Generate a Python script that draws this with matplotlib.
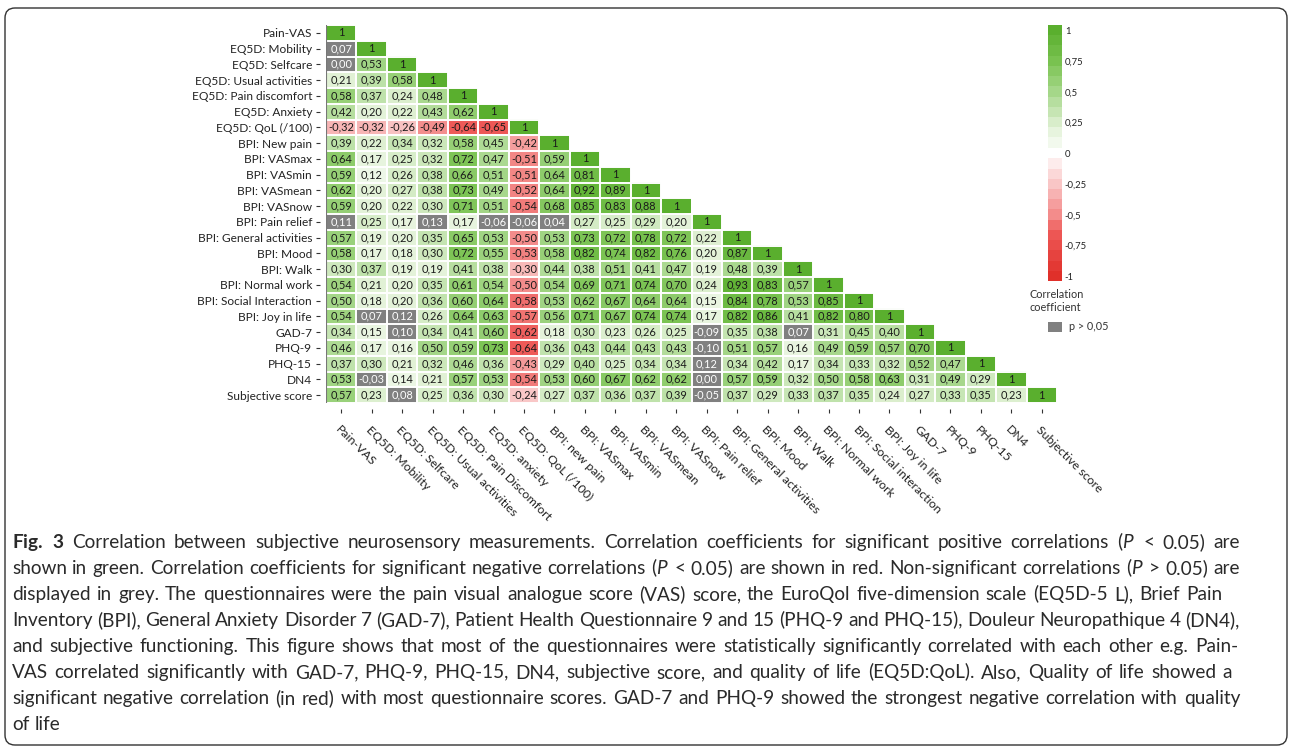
import numpy as np
import matplotlib
matplotlib.use("Agg")
import matplotlib.pyplot as plt
from matplotlib.colors import LinearSegmentedColormap, Normalize, ListedColormap
from matplotlib.patches import FancyBboxPatch, Rectangle
from matplotlib.transforms import IdentityTransform

plt.rcParams['font.family'] = ['Lato', 'DejaVu Sans']
plt.rcParams['mathtext.fontset'] = 'custom'
plt.rcParams['mathtext.rm'] = 'Lato'
plt.rcParams['mathtext.it'] = 'Lato:italic'
plt.rcParams['mathtext.bf'] = 'Lato:bold'

row_labels = ["Pain-VAS", "EQ5D: Mobility", "EQ5D: Selfcare", "EQ5D: Usual activities",
              "EQ5D: Pain discomfort", "EQ5D: Anxiety", "EQ5D: QoL (/100)", "BPI: New pain",
              "BPI: VASmax", "BPI: VASmin", "BPI: VASmean", "BPI: VASnow", "BPI: Pain relief",
              "BPI: General activities", "BPI: Mood", "BPI: Walk", "BPI: Normal work",
              "BPI: Social Interaction", "BPI: Joy in life", "GAD-7", "PHQ-9", "PHQ-15", "DN4",
              "Subjective score"]
col_labels = ["Pain-VAS", "EQ5D: Mobility", "EQ5D: Selfcare", "EQ5D: Usual activities",
              "EQ5D: Pain Discomfort", "EQ5D: anxiety", "EQ5D: QoL (/100)", "BPI: new pain",
              "BPI: VASmax", "BPI: VASmin", "BPI: VASmean", "BPI: VASnow", "BPI: Pain relief",
              "BPI: General activities", "BPI: Mood", "BPI: Walk", "BPI: Normal work",
              "BPI: Social interaction", "BPI: Joy in life", "GAD-7", "PHQ-9", "PHQ-15", "DN4",
              "Subjective score"]

corr_rows = [
    [1],
    [0.07, 1],
    [0.00, 0.53, 1],
    [0.21, 0.39, 0.58, 1],
    [0.58, 0.37, 0.24, 0.48, 1],
    [0.42, 0.20, 0.22, 0.43, 0.62, 1],
    [-0.32, -0.32, -0.26, -0.49, -0.64, -0.65, 1],
    [0.39, 0.22, 0.34, 0.32, 0.58, 0.45, -0.42, 1],
    [0.64, 0.17, 0.25, 0.32, 0.72, 0.47, -0.51, 0.59, 1],
    [0.59, 0.12, 0.26, 0.38, 0.66, 0.51, -0.51, 0.64, 0.81, 1],
    [0.62, 0.20, 0.27, 0.38, 0.73, 0.49, -0.52, 0.64, 0.92, 0.89, 1],
    [0.59, 0.20, 0.22, 0.30, 0.71, 0.51, -0.54, 0.68, 0.85, 0.83, 0.88, 1],
    [0.11, 0.25, 0.17, 0.13, 0.17, -0.06, -0.06, 0.04, 0.27, 0.25, 0.29, 0.20, 1],
    [0.57, 0.19, 0.20, 0.35, 0.65, 0.53, -0.50, 0.53, 0.73, 0.72, 0.78, 0.72, 0.22, 1],
    [0.58, 0.17, 0.18, 0.30, 0.72, 0.55, -0.53, 0.58, 0.82, 0.74, 0.82, 0.76, 0.20, 0.87, 1],
    [0.30, 0.37, 0.19, 0.19, 0.41, 0.38, -0.30, 0.44, 0.38, 0.51, 0.41, 0.47, 0.19, 0.48, 0.39, 1],
    [0.54, 0.21, 0.20, 0.35, 0.61, 0.54, -0.50, 0.54, 0.69, 0.71, 0.74, 0.70, 0.24, 0.93, 0.83, 0.57, 1],
    [0.50, 0.18, 0.20, 0.36, 0.60, 0.64, -0.58, 0.53, 0.62, 0.67, 0.64, 0.64, 0.15, 0.84, 0.78, 0.53, 0.85, 1],
    [0.54, 0.07, 0.12, 0.26, 0.64, 0.63, -0.57, 0.56, 0.71, 0.67, 0.74, 0.74, 0.17, 0.82, 0.86, 0.41, 0.82, 0.80, 1],
    [0.34, 0.15, 0.10, 0.34, 0.41, 0.60, -0.62, 0.18, 0.30, 0.23, 0.26, 0.25, -0.09, 0.35, 0.38, 0.07, 0.31, 0.45, 0.40, 1],
    [0.46, 0.17, 0.16, 0.50, 0.59, 0.73, -0.64, 0.36, 0.43, 0.44, 0.43, 0.43, -0.10, 0.51, 0.57, 0.16, 0.49, 0.59, 0.57, 0.70, 1],
    [0.37, 0.30, 0.21, 0.32, 0.46, 0.36, -0.43, 0.29, 0.40, 0.25, 0.34, 0.34, 0.12, 0.34, 0.42, 0.17, 0.34, 0.33, 0.32, 0.52, 0.47, 1],
    [0.53, -0.03, 0.14, 0.21, 0.57, 0.53, -0.54, 0.53, 0.60, 0.67, 0.62, 0.62, 0.00, 0.57, 0.59, 0.32, 0.50, 0.58, 0.63, 0.31, 0.49, 0.29, 1],
    [0.57, 0.23, 0.08, 0.25, 0.36, 0.30, -0.24, 0.27, 0.37, 0.36, 0.37, 0.39, -0.05, 0.37, 0.29, 0.33, 0.37, 0.35, 0.24, 0.27, 0.33, 0.35, 0.23, 1],
]

# non-significant cells (row, col), p > 0.05
nonsig_cells = [(1, 0), (2, 0), (12, 0), (12, 3), (12, 5), (12, 6), (12, 7),
                (18, 1), (18, 2), (19, 2), (19, 12), (19, 15), (20, 12), (21, 12),
                (22, 1), (22, 12), (23, 2), (23, 12)]

cbar_ticks = [1, 0.75, 0.5, 0.25, 0, -0.25, -0.5, -0.75, -1]

caption_lines = [
    r"$\mathbf{Fig.}$ $\mathbf{3}$ Correlation between subjective neurosensory measurements. Correlation coefficients for significant positive correlations ($\mathit{P}$ < 0.05) are",
    r"shown in green. Correlation coefficients for significant negative correlations ($\mathit{P}$ < 0.05) are shown in red. Non-significant correlations ($\mathit{P}$ > 0.05) are",
    "displayed in grey. The questionnaires were the pain visual analogue score (VAS) score, the EuroQol five-dimension scale (EQ5D-5 L), Brief Pain",
    "Inventory (BPI), General Anxiety Disorder 7 (GAD-7), Patient Health Questionnaire 9 and 15 (PHQ-9 and PHQ-15), Douleur Neuropathique 4 (DN4),",
    "and subjective functioning. This figure shows that most of the questionnaires were statistically significantly correlated with each other e.g. Pain-",
    "VAS correlated significantly with GAD-7, PHQ-9, PHQ-15, DN4, subjective score, and quality of life (EQ5D:QoL). Also, Quality of life showed a",
    "significant negative correlation (in red) with most questionnaire scores. GAD-7 and PHQ-9 showed the strongest negative correlation with quality",
    "of life",
]
# right edge (px) of each justified caption line; None = left aligned
caption_right = [1240, 1240, 1222, 1240, 1238, 1232, 1240, None]

# ---------------------------------------------------------------
W, H = 1292, 749
fig = plt.figure(figsize=(W / 100, H / 100), dpi=100)

def fx(x):
    return x / W

def fy(y):
    return 1 - y / H

n = len(row_labels)
M = np.full((n, n), np.nan)
for i, r in enumerate(corr_rows):
    M[i, :len(r)] = r
G = np.full((n, n), np.nan)
for (i, j) in nonsig_cells:
    G[i, j] = 1

cmap = LinearSegmentedColormap.from_list(
    "rg", [(0.0, "#E0302A"), (0.18, "#EE5A58"), (0.25, "#F38C8B"), (0.5, "#FFFFFF"),
           (0.60, "#E3F2D8"), (0.75, "#A6D78A"), (0.88, "#78C24F"), (1.0, "#5AAF2E")])
norm = Normalize(-1, 1)

ax = fig.add_axes([fx(326), fy(403), fx(1057 - 326), (403 - 25) / H])
for s in ax.spines.values():
    s.set_visible(False)
ax.spines['left'].set_position(('outward', 4))
ax.spines['bottom'].set_position(('outward', 4))

Mplot = np.ma.masked_invalid(np.where(np.isnan(G), M, np.nan))
ax.imshow(Mplot, cmap=cmap, norm=norm, aspect='auto', interpolation='nearest')
ax.imshow(np.ma.masked_invalid(G), cmap=ListedColormap(["#808080"]), aspect='auto',
          interpolation='nearest')

for i in range(n):
    for j in range(i + 1):
        v = M[i, j]
        txt = "1" if i == j else f"{v:.2f}".replace(".", ",")
        col = "white" if not np.isnan(G[i, j]) else "#1a1a1a"
        ax.text(j, i, txt, ha='center', va='center', fontsize=7.9, color=col)

ax.set_xticks(range(n))
ax.set_yticks(range(n))
ax.set_xticklabels(col_labels, rotation=-45, ha='left', va='top', rotation_mode='anchor',
                   fontsize=8.9)
ax.set_yticklabels(row_labels, fontsize=8.6)
ax.set_xticks(np.arange(-0.5, n, 1), minor=True)
ax.set_yticks(np.arange(-0.5, n, 1), minor=True)
ax.grid(which='minor', color='white', linewidth=1.4)
ax.grid(which='major', visible=False)
ax.tick_params(which='minor', length=0)
ax.tick_params(which='major', length=3, width=0.8, color='#333333', labelcolor='#222222')
ax.tick_params(axis='y', which='major', pad=3)
ax.tick_params(axis='x', which='major', pad=8)
ax.axvline(-0.5, color='#777777', lw=0.8)
ax.set_xlim(-0.5, n - 0.5)
ax.set_ylim(n - 0.5, -0.5)

# colour bar (stepped)
cax = fig.add_axes([fx(1048), fy(281), fx(14), (281 - 25) / H])
g_edges = np.linspace(0.046, 1.046, 13)
r_edges = np.linspace(-1.04, -0.04, 13)
for edges in (g_edges, r_edges):
    mids = (edges[:-1] + edges[1:]) / 2
    cax.pcolormesh([0, 1], edges, mids.reshape(-1, 1), cmap=cmap, norm=norm)
cax.set_ylim(-1.04, 1.046)
cax.set_xlim(0, 1)
cax.set_xticks([])
cax.yaxis.tick_right()
cax.set_yticks(cbar_ticks)
cax.set_yticklabels([("%g" % t).replace(".", ",") for t in cbar_ticks], fontsize=6.8,
                    color='#222222')
cax.tick_params(length=0, pad=2)
for s in cax.spines.values():
    s.set_visible(False)

fig.text(fx(1030), fy(301), "Correlation\ncoefficient", fontsize=7.8, color='#333333',
         ha='left', va='center', linespacing=1.3)
fig.add_artist(Rectangle((fx(1048), fy(332)), fx(14), 10 / H, transform=fig.transFigure,
                         facecolor='#808080', edgecolor='none'))
fig.text(fx(1069), fy(327), "p > 0,05", fontsize=7.8, color='#333333', ha='left', va='center')

# caption (justified word by word, common baseline)
renderer = fig.canvas.get_renderer()
cap_fs = 13.7
x0 = 12
probe_a = fig.text(0, 0, "a", fontsize=cap_fs)
probe_aa = fig.text(0, 0, "a a", fontsize=cap_fs)
space_w = probe_aa.get_window_extent(renderer).width - 2 * probe_a.get_window_extent(renderer).width
probe_a.remove()
probe_aa.remove()
for k, line in enumerate(caption_lines):
    y = fy(548 + 26.0 * k)
    toks = []
    buf = ""
    for w in line.split(" "):
        if buf:
            buf += " " + w
            if buf.count("$") % 2 == 0:
                toks.append(buf)
                buf = ""
        elif w.count("$") % 2 == 1:
            buf = w
        else:
            toks.append(w)
    arts = [fig.text(0, y, t, fontsize=cap_fs, color='#2a2a2a', ha='left', va='baseline')
            for t in toks]
    widths = [a.get_window_extent(renderer).width for a in arts]
    if caption_right[k] is None or len(arts) < 2:
        gap = space_w
    else:
        gap = (caption_right[k] - x0 - sum(widths)) / (len(arts) - 1)
    x = x0
    for a, w in zip(arts, widths):
        a.set_x(fx(x))
        x += w + gap

# rounded frame
frame = FancyBboxPatch((5, 4), W - 10, H - 12, boxstyle="round,pad=0,rounding_size=10",
                       transform=IdentityTransform(), facecolor='none', edgecolor='#333333',
                       linewidth=1.0)
fig.add_artist(frame)

fig.savefig("out.png", dpi=100)
